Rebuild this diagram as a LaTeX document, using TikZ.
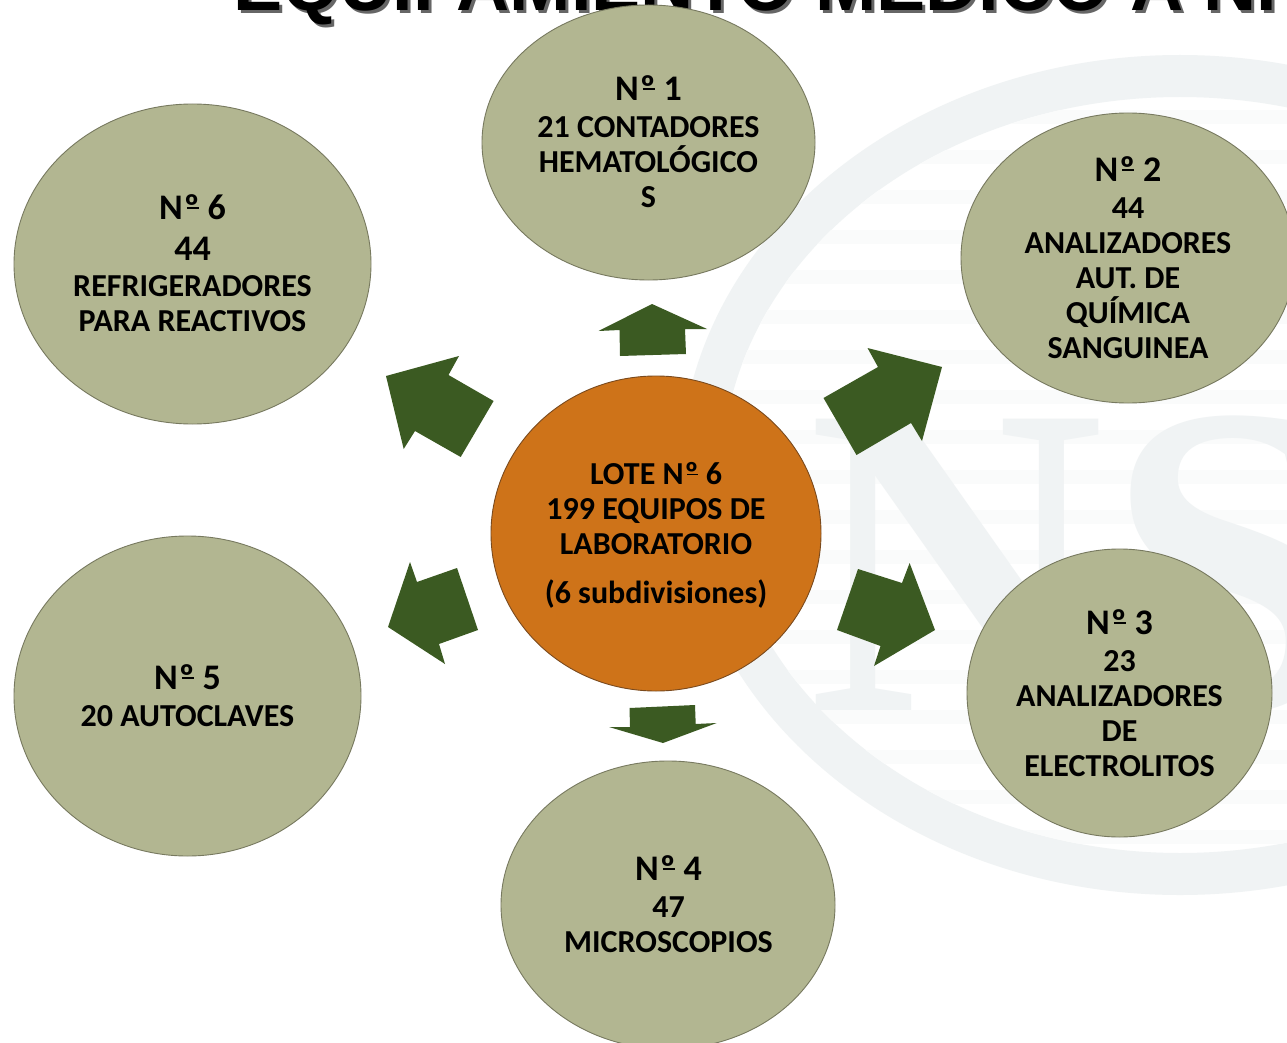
\documentclass[tikz,border=0pt]{standalone}
\usepackage{fontspec}
\setmainfont{Carlito}
\newfontfamily\titlefont{Liberation Sans}
\newfontfamily\markfont{Liberation Serif}
\usetikzlibrary{shapes.geometric}
\definecolor{olive}{HTML}{B2B691}
\definecolor{oliveline}{HTML}{77795F}
\definecolor{orangefill}{HTML}{CE7319}
\definecolor{orangeline}{HTML}{7A4A1E}
\definecolor{arrowgreen}{HTML}{3B5A22}
\definecolor{wm}{HTML}{F0F3F4}
\definecolor{wmstripe}{HTML}{FAFBFB}
\newcommand{\nro}{N\kern0.03em º\llap{\rule[0.30em]{0.33em}{0.055em}\kern0.02em}}
\tikzset{
  bubble/.style={ellipse,draw=oliveline,line width=0.9pt,fill=olive,inner sep=0pt},
  hub/.style={ellipse,draw=orangeline,line width=0.9pt,fill=orangefill,inner sep=0pt},
  label/.style={align=center,text=black,font=\bfseries\fontsize{32}{35}\selectfont,inner sep=0pt},
  bigline/.style={label,font=\bfseries\fontsize{36}{35}\selectfont},
  bigarrow/.style={fill=arrowgreen,draw=none},
  markglyph/.style={text=wm,font=\markfont\bfseries\fontsize{445}{445}\selectfont,anchor=base west,inner sep=0pt},
}
\begin{document}
\begin{tikzpicture}[x=1pt,y=-1pt]
\useasboundingbox (0,0) rectangle (1287,1043);
\clip (0,0) rectangle (1287,1043);
\fill[white] (0,0) rectangle (1287,1043);
% watermark
\fill[wm,even odd rule] (1180,475) ellipse [x radius=500,y radius=420]
   (1180,475) ellipse [x radius=458,y radius=378];
\begin{scope}
\clip (1180,475) ellipse [x radius=458,y radius=378];
\foreach \yy in {110,150,...,870} \fill[wmstripe] (680,\yy) rectangle (1287,\yy+14);
\end{scope}
\node[markglyph,xscale=.92] (markn) at (808,710) {N};
\node[markglyph] (marks) at (1105,710) {S};
% title
\node[anchor=base west,inner sep=0pt,text=black!60,font=\titlefont\bfseries\fontsize{73.6}{80}\selectfont] (titleshadow) at (236,14) {EQUIPAMIENTO MEDICO A NI};
\node[anchor=base west,inner sep=0pt,text=black,font=\titlefont\bfseries\fontsize{73.6}{80}\selectfont] (title) at (233,11) {EQUIPAMIENTO MEDICO A NI};
% bubbles
\node[bubble,minimum width=333pt,minimum height=275pt] (n1) at (648.5,142.5) {};
\node[bubble,minimum width=334pt,minimum height=290pt] (n2) at (1128,258) {};
\node[bubble,minimum width=305pt,minimum height=288pt] (n3) at (1119.5,693) {};
\node[bubble,minimum width=334pt,minimum height=288pt] (n4) at (668,905) {};
\node[bubble,minimum width=347pt,minimum height=320pt] (n5) at (187.5,696) {};
\node[bubble,minimum width=357pt,minimum height=320pt] (n6) at (192.5,264) {};
\node[hub,minimum width=330pt,minimum height=315pt] (hub) at (656,533.5) {};
% arrows
\fill[bigarrow] (652,304)--(707,329)--(685,329)--(686,354)--(620,356)--(619.5,330)--(598.5,331)--cycle;
\fill[bigarrow] (823.5,398)--(878,367)--(867.5,348)--(942,367)--(922,441)--(911,423)--(856.5,455)--cycle;
\fill[bigarrow] (386,376)--(459,356)--(448.5,375)--(493.6,401)--(460.7,457)--(415,431)--(403.7,449)--cycle;
\fill[bigarrow] (410,562)--(417,582)--(457,568)--(478,630)--(439,644)--(445,664)--(388,627)--cycle;
\fill[bigarrow] (909.6,563)--(935,630)--(874,666)--(880.5,646)--(837,630)--(858,569)--(902,583)--cycle;
\fill[bigarrow] (629.5,708)--(695,705)--(695.7,724)--(716.7,723)--(663,743)--(609,727)--(630,727)--cycle;
% texts
\node[bigline] (t1a) at (648.5,88) {\nro{} 1};
\node[label] (t1b) at (648.5,162) {21 CONTADORES\\HEMATOLÓGICO\\S};
\node[bigline] (t2a) at (1128,169) {\nro{} 2};
\node[label] (t2b) at (1128,278) {44\\ANALIZADORES\\AUT. DE\\QUÍMICA\\SANGUINEA};
\node[bigline] (t3a) at (1119.5,622) {\nro{} 3};
\node[label] (t3b) at (1119.5,713.7) {23\\ANALIZADORES\\DE\\ELECTROLITOS};
\node[bigline] (t4a) at (668.5,868) {\nro{} 4};
\node[label] (t4b) at (668.5,925) {47\\MICROSCOPIOS};
\node[bigline] (t5a) at (187.5,677) {\nro{} 5};
\node[label] (t5b) at (187.5,716) {20 AUTOCLAVES};
\node[bigline] (t6a) at (192.5,207) {\nro{} 6};
\node[bigline] (t6b) at (192.5,249) {44};
\node[label] (t6c) at (192.5,303.5) {REFRIGERADORES\\PARA REACTIVOS};
\node[label] (tha) at (656,509) {LOTE \nro{} 6\\199 EQUIPOS DE\\LABORATORIO};
\node[label] (thb) at (656,594) {(6 subdivisiones)};
\end{tikzpicture}
\end{document}
